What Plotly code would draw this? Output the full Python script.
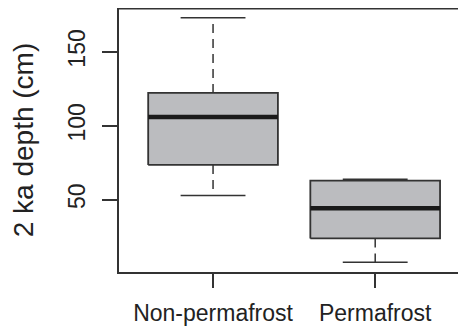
import plotly.graph_objects as go

categories = ["Non-permafrost", "Permafrost"]
lower_whisker = [52.7, 7.6]
q1 = [73.5, 23.7]
median = [105.9, 44.1]
q3 = [122.2, 62.8]
upper_whisker = [173.1, 63.7]
y_ticks = [50, 100, 150]

positions = [i + 1 for i in range(len(categories))]
box_half = 0.4
cap_half = 0.2

FILL = "#bbbcbf"
LINE = "#333333"
FONT = "Liberation Sans, Arial, Helvetica, sans-serif"

fig = go.Figure()

for p, lw, a, m, b, uw in zip(positions, lower_whisker, q1, median, q3, upper_whisker):
    # dashed whiskers
    fig.add_trace(go.Scatter(x=[p, p], y=[b, uw], mode="lines",
                             line=dict(color=LINE, width=1.5, dash="9px,6px"),
                             hoverinfo="skip", showlegend=False))
    fig.add_trace(go.Scatter(x=[p, p], y=[a, lw], mode="lines",
                             line=dict(color=LINE, width=1.5, dash="9px,6px"),
                             hoverinfo="skip", showlegend=False))
    # caps
    fig.add_trace(go.Scatter(x=[p - cap_half, p + cap_half], y=[uw, uw], mode="lines",
                             line=dict(color=LINE, width=1.5),
                             hoverinfo="skip", showlegend=False))
    fig.add_trace(go.Scatter(x=[p - cap_half, p + cap_half], y=[lw, lw], mode="lines",
                             line=dict(color=LINE, width=1.5),
                             hoverinfo="skip", showlegend=False))
    # box
    fig.add_trace(go.Scatter(x=[p - box_half, p + box_half, p + box_half, p - box_half, p - box_half],
                             y=[a, a, b, b, a], mode="lines", fill="toself",
                             fillcolor=FILL, line=dict(color=LINE, width=1.8),
                             hoverinfo="skip", showlegend=False))
    # median
    fig.add_trace(go.Scatter(x=[p - box_half, p + box_half], y=[m, m], mode="lines",
                             line=dict(color="#1a1a1a", width=4.5),
                             hoverinfo="skip", showlegend=False))

ymin = min(lower_whisker)
ymax = max(upper_whisker)
pad = (ymax - ymin) * 0.04

# the page places the figure 8px from its top-left corner
fig.update_layout(
    width=458, height=324,
    margin=dict(l=111, r=0, t=0, b=60),
    paper_bgcolor="white", plot_bgcolor="white",
    font=dict(family=FONT, size=23, color="#222222"),
    xaxis=dict(range=[0.42, 2.56], tickvals=positions, ticktext=categories,
               showgrid=False, zeroline=False, showline=True, linecolor=LINE, linewidth=1.5,
               ticks="outside", ticklen=14, tickwidth=1.5, tickcolor=LINE,
               ticklabelstandoff=6),
    yaxis=dict(range=[ymin - pad, ymax + pad], tickvals=y_ticks, tickangle=-90,
               showgrid=False, zeroline=False, showline=True, linecolor=LINE, linewidth=1.5,
               ticks="outside", ticklen=15, tickwidth=1.5, tickcolor=LINE,
               ticklabelstandoff=8,
               title=dict(text="2 ka depth (cm)", standoff=24)),
    shapes=[dict(type="line", xref="paper", yref="paper", x0=0, x1=1, y0=0.997, y1=0.997,
                 line=dict(color=LINE, width=1.5))],
)

fig.write_html("out.html")
